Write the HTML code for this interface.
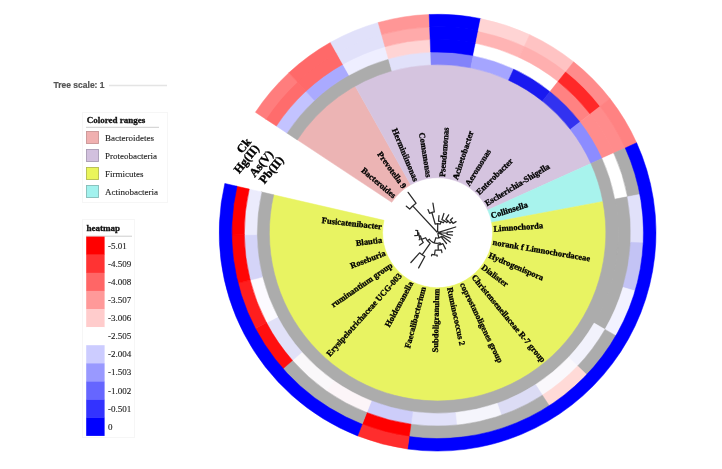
<!DOCTYPE html>
<html><head><meta charset="utf-8"><style>
html,body{margin:0;padding:0;background:#fff;}
svg{display:block;filter:blur(0.35px);}
.lb{font-family:"Liberation Serif",serif;font-weight:bold;font-size:8.5px;fill:#000;stroke:#000;stroke-width:0.3px;}
.lg{font-family:"Liberation Serif",serif;font-size:9px;fill:#222;stroke:#222;stroke-width:0.12px;}
.lt{font-family:"Liberation Serif",serif;font-weight:bold;font-size:9px;fill:#111;stroke:#111;stroke-width:0.3px;}
.rl{font-family:"Liberation Serif",serif;font-weight:bold;font-size:12px;fill:#000;stroke:#000;stroke-width:0.35px;}
</style></head><body>
<svg width="722" height="469" viewBox="0 0 722 469">
<rect width="722" height="469" fill="#fff"/>
<text x="53.5" y="87.8" style="font-family:'Liberation Sans',sans-serif;font-weight:bold;font-size:8.5px;fill:#555;stroke:#555;stroke-width:0.2px">Tree scale: 1</text>
<line x1="109" y1="85.5" x2="167" y2="85.5" stroke="#e4e4e4" stroke-width="1.4"/>
<rect x="82.5" y="112.5" width="85" height="90" fill="none" stroke="#f6f6f6" stroke-width="1"/>
<text x="86.7" y="123" class="lt">Colored ranges</text>
<line x1="86" y1="127.3" x2="159" y2="127.3" stroke="#b8b8b8" stroke-width="0.7"/>
<rect x="86.5" y="131.5" width="12" height="12" fill="#f0b0b0" stroke="#c89696" stroke-width="0.9"/>
<rect x="86.5" y="149.5" width="12" height="12" fill="#d2c0de" stroke="#a89cb4" stroke-width="0.9"/>
<rect x="86.5" y="167.5" width="12" height="12" fill="#eaf55a" stroke="#b4bc50" stroke-width="0.9"/>
<rect x="86.5" y="185.5" width="12" height="12" fill="#a2f2ee" stroke="#84bcb8" stroke-width="0.9"/>
<text x="105" y="141" class="lg">Bacteroidetes</text>
<text x="105" y="159" class="lg">Proteobacteria</text>
<text x="105" y="177" class="lg">Firmicutes</text>
<text x="105" y="195" class="lg">Actinobacteria</text>
<rect x="82.5" y="219.5" width="52" height="218" fill="none" stroke="#f6f6f6" stroke-width="1"/>
<text x="86.5" y="231.3" class="lt">heatmap</text>
<line x1="86" y1="236.2" x2="132" y2="236.2" stroke="#b8b8b8" stroke-width="0.7"/>
<rect x="86.2" y="236.60" width="18.4" height="18.30" fill="#ff0000"/>
<text x="108" y="248.75" class="lg">-5.01</text>
<rect x="86.2" y="254.70" width="18.4" height="18.30" fill="#ff3333"/>
<text x="108" y="266.85" class="lg">-4.509</text>
<rect x="86.2" y="272.80" width="18.4" height="18.30" fill="#ff6666"/>
<text x="108" y="284.95" class="lg">-4.008</text>
<rect x="86.2" y="290.90" width="18.4" height="18.30" fill="#ff9999"/>
<text x="108" y="303.05" class="lg">-3.507</text>
<rect x="86.2" y="309.00" width="18.4" height="18.30" fill="#ffcccc"/>
<text x="108" y="321.15" class="lg">-3.006</text>
<rect x="86.2" y="327.10" width="18.4" height="18.30" fill="#ffffff"/>
<text x="108" y="339.25" class="lg">-2.505</text>
<rect x="86.2" y="345.20" width="18.4" height="18.30" fill="#ccccff"/>
<text x="108" y="357.35" class="lg">-2.004</text>
<rect x="86.2" y="363.30" width="18.4" height="18.30" fill="#9999ff"/>
<text x="108" y="375.45" class="lg">-1.503</text>
<rect x="86.2" y="381.40" width="18.4" height="18.30" fill="#6666ff"/>
<text x="108" y="393.55" class="lg">-1.002</text>
<rect x="86.2" y="399.50" width="18.4" height="18.30" fill="#3333ff"/>
<text x="108" y="411.65" class="lg">-0.501</text>
<rect x="86.2" y="417.60" width="18.4" height="18.30" fill="#0000ff"/>
<text x="108" y="429.75" class="lg">0</text>
<path d="M296.92,139.59A168.70,168.70 0 0 1 354.94,85.64L410.65,184.75A55.00,55.00 0 0 0 391.74,202.34Z" fill="#ecb4b4" stroke="#ecb4b4" stroke-width="0.5"/>
<path d="M354.94,85.64A168.70,168.70 0 0 1 591.38,163.33L487.74,210.08A55.00,55.00 0 0 0 410.65,184.75Z" fill="#d5c4df" stroke="#d5c4df" stroke-width="0.5"/>
<path d="M591.38,163.33A168.70,168.70 0 0 1 603.37,201.38L491.64,222.49A55.00,55.00 0 0 0 487.74,210.08Z" fill="#a8f3ed" stroke="#a8f3ed" stroke-width="0.5"/>
<path d="M603.37,201.38A168.70,168.70 0 1 1 273.22,194.75L384.01,220.33A55.00,55.00 0 1 0 491.64,222.49Z" fill="#e8f362" stroke="#e8f362" stroke-width="0.5"/>
<path d="M286.41,132.74A181.25,181.25 0 0 1 388.46,58.24L392.00,70.80A168.20,168.20 0 0 0 297.29,139.94Z" fill="#acacac" stroke="#acacac" stroke-width="0.5"/>
<path d="M388.28,58.29A181.25,181.25 0 0 1 430.80,51.58L431.29,64.62A168.20,168.20 0 0 0 391.83,70.85Z" fill="#e1e1fa" stroke="#e1e1fa" stroke-width="0.5"/>
<path d="M430.61,51.58A181.25,181.25 0 0 1 473.52,55.04L470.93,67.84A168.20,168.20 0 0 0 431.11,64.63Z" fill="#8282fa" stroke="#8282fa" stroke-width="0.5"/>
<path d="M473.33,55.01A181.25,181.25 0 0 1 514.23,68.45L508.71,80.27A168.20,168.20 0 0 0 470.76,67.80Z" fill="#a5a5ff" stroke="#a5a5ff" stroke-width="0.5"/>
<path d="M514.06,68.36A181.25,181.25 0 0 1 550.65,91.03L542.51,101.23A168.20,168.20 0 0 0 508.55,80.20Z" fill="#1919f0" stroke="#1919f0" stroke-width="0.5"/>
<path d="M550.51,90.91A181.25,181.25 0 0 1 580.76,121.54L570.45,129.54A168.20,168.20 0 0 0 542.38,101.12Z" fill="#3232f0" stroke="#3232f0" stroke-width="0.5"/>
<path d="M580.64,121.39A181.25,181.25 0 0 1 602.86,158.26L590.96,163.62A168.20,168.20 0 0 0 570.34,129.40Z" fill="#8c8cff" stroke="#8c8cff" stroke-width="0.5"/>
<path d="M602.78,158.08A181.25,181.25 0 1 1 261.02,191.84L273.73,194.78A168.20,168.20 0 1 0 590.89,163.46Z" fill="#acacac" stroke="#acacac" stroke-width="0.5"/>
<path d="M275.94,125.82A193.80,193.80 0 0 1 305.70,90.71L314.58,100.27A180.75,180.75 0 0 0 286.82,133.02Z" fill="#c3c3ff" stroke="#c3c3ff" stroke-width="0.5"/>
<path d="M305.55,90.85A193.80,193.80 0 0 1 342.73,63.71L349.12,75.09A180.75,180.75 0 0 0 314.44,100.40Z" fill="#aaaaff" stroke="#aaaaff" stroke-width="0.5"/>
<path d="M342.55,63.81A193.80,193.80 0 0 1 385.06,46.16L388.60,58.72A180.75,180.75 0 0 0 348.95,75.18Z" fill="#eeeeff" stroke="#eeeeff" stroke-width="0.5"/>
<path d="M384.86,46.21A193.80,193.80 0 0 1 430.33,39.04L430.82,52.08A180.75,180.75 0 0 0 388.42,58.77Z" fill="#ffd4d4" stroke="#ffd4d4" stroke-width="0.5"/>
<path d="M430.13,39.04A193.80,193.80 0 0 1 476.01,42.74L473.42,55.53A180.75,180.75 0 0 0 430.63,52.08Z" fill="#0000ff" stroke="#0000ff" stroke-width="0.5"/>
<path d="M475.81,42.70A193.80,193.80 0 0 1 558.48,81.22L550.34,91.42A180.75,180.75 0 0 0 473.23,55.50Z" fill="#ffffff" stroke="#ffffff" stroke-width="0.5"/>
<path d="M558.32,81.09A193.80,193.80 0 0 1 590.67,113.84L580.36,121.84A180.75,180.75 0 0 0 550.19,91.30Z" fill="#ff8282" stroke="#ff8282" stroke-width="0.5"/>
<path d="M590.55,113.68A193.80,193.80 0 0 1 614.30,153.10L602.40,158.46A180.75,180.75 0 0 0 580.25,121.69Z" fill="#ff8c8c" stroke="#ff8c8c" stroke-width="0.5"/>
<path d="M614.22,152.92A193.80,193.80 0 0 1 628.05,196.82L615.22,199.23A180.75,180.75 0 0 0 602.32,158.29Z" fill="#ffffff" stroke="#ffffff" stroke-width="0.5"/>
<path d="M628.01,196.62A193.80,193.80 0 0 1 605.32,329.80L594.02,323.27A180.75,180.75 0 0 0 615.19,199.05Z" fill="#acacac" stroke="#acacac" stroke-width="0.5"/>
<path d="M605.42,329.63A193.80,193.80 0 0 1 577.83,366.47L568.39,357.46A180.75,180.75 0 0 0 594.12,323.10Z" fill="#f2f2fc" stroke="#f2f2fc" stroke-width="0.5"/>
<path d="M577.97,366.32A193.80,193.80 0 0 1 542.50,395.66L535.43,384.68A180.75,180.75 0 0 0 568.52,357.33Z" fill="#faf8fc" stroke="#faf8fc" stroke-width="0.5"/>
<path d="M542.67,395.55A193.80,193.80 0 0 1 501.30,415.73L497.01,403.41A180.75,180.75 0 0 0 535.59,384.58Z" fill="#dcdcf5" stroke="#dcdcf5" stroke-width="0.5"/>
<path d="M501.49,415.66A193.80,193.80 0 0 1 456.55,425.57L455.27,412.58A180.75,180.75 0 0 0 497.19,403.34Z" fill="#f5f5fc" stroke="#f5f5fc" stroke-width="0.5"/>
<path d="M456.75,425.55A193.80,193.80 0 0 1 410.73,424.63L412.54,411.70A180.75,180.75 0 0 0 455.46,412.57Z" fill="#e1e1fa" stroke="#e1e1fa" stroke-width="0.5"/>
<path d="M410.93,424.66A193.80,193.80 0 0 1 366.41,412.95L371.21,400.82A180.75,180.75 0 0 0 412.73,411.73Z" fill="#cdcdfa" stroke="#cdcdfa" stroke-width="0.5"/>
<path d="M366.60,413.03A193.80,193.80 0 0 1 326.08,391.20L333.59,380.53A180.75,180.75 0 0 0 371.38,400.88Z" fill="#fcf5f8" stroke="#fcf5f8" stroke-width="0.5"/>
<path d="M326.25,391.32A193.80,193.80 0 0 1 291.98,360.58L301.79,351.97A180.75,180.75 0 0 0 333.75,380.63Z" fill="#faf8fa" stroke="#faf8fa" stroke-width="0.5"/>
<path d="M292.12,360.74A193.80,193.80 0 0 1 266.03,322.82L277.58,316.75A180.75,180.75 0 0 0 301.91,352.11Z" fill="#e1e1f8" stroke="#e1e1f8" stroke-width="0.5"/>
<path d="M266.12,323.00A193.80,193.80 0 0 1 249.66,280.01L262.32,276.83A180.75,180.75 0 0 0 277.67,316.92Z" fill="#fcfaff" stroke="#fcfaff" stroke-width="0.5"/>
<path d="M249.71,280.21A193.80,193.80 0 0 1 243.81,234.56L256.86,234.44A180.75,180.75 0 0 0 262.37,277.01Z" fill="#d4d4f8" stroke="#d4d4f8" stroke-width="0.5"/>
<path d="M243.81,234.76A193.80,193.80 0 0 1 248.79,189.01L261.50,191.95A180.75,180.75 0 0 0 256.86,234.62Z" fill="#ebebfc" stroke="#ebebfc" stroke-width="0.5"/>
<path d="M265.47,118.90A206.35,206.35 0 0 1 297.16,81.52L306.04,91.08A193.30,193.30 0 0 0 276.35,126.09Z" fill="#ff6c6c" stroke="#ff6c6c" stroke-width="0.5"/>
<path d="M297.00,81.66A206.35,206.35 0 0 1 336.58,52.77L342.97,64.15A193.30,193.30 0 0 0 305.89,91.21Z" fill="#ff6969" stroke="#ff6969" stroke-width="0.5"/>
<path d="M336.40,52.87A206.35,206.35 0 0 1 381.66,34.08L385.20,46.64A193.30,193.30 0 0 0 342.80,64.24Z" fill="#e1e1fa" stroke="#e1e1fa" stroke-width="0.5"/>
<path d="M381.45,34.14A206.35,206.35 0 0 1 429.86,26.50L430.35,39.54A193.30,193.30 0 0 0 385.00,46.69Z" fill="#ffaaaa" stroke="#ffaaaa" stroke-width="0.5"/>
<path d="M429.64,26.50A206.35,206.35 0 0 1 478.49,30.44L475.91,43.23A193.30,193.30 0 0 0 430.15,39.54Z" fill="#0000ff" stroke="#0000ff" stroke-width="0.5"/>
<path d="M478.28,30.40A206.35,206.35 0 0 1 524.84,45.70L519.32,57.52A193.30,193.30 0 0 0 475.71,43.19Z" fill="#ffb4b4" stroke="#ffb4b4" stroke-width="0.5"/>
<path d="M524.64,45.61A206.35,206.35 0 0 1 566.31,71.41L558.17,81.61A193.30,193.30 0 0 0 519.14,57.44Z" fill="#ffafaf" stroke="#ffafaf" stroke-width="0.5"/>
<path d="M566.14,71.28A206.35,206.35 0 0 1 600.58,106.14L590.27,114.15A193.30,193.30 0 0 0 558.01,81.48Z" fill="#ff2828" stroke="#ff2828" stroke-width="0.5"/>
<path d="M600.45,105.97A206.35,206.35 0 0 1 625.74,147.95L613.84,153.31A193.30,193.30 0 0 0 590.15,113.99Z" fill="#ff8c8c" stroke="#ff8c8c" stroke-width="0.5"/>
<path d="M625.65,147.75A206.35,206.35 0 0 1 640.38,194.49L627.56,196.91A193.30,193.30 0 0 0 613.76,153.12Z" fill="#acacac" stroke="#acacac" stroke-width="0.5"/>
<path d="M640.34,194.28A206.35,206.35 0 0 1 643.68,243.18L630.65,242.51A193.30,193.30 0 0 0 627.52,196.71Z" fill="#e1e1fa" stroke="#e1e1fa" stroke-width="0.5"/>
<path d="M643.69,242.96A206.35,206.35 0 0 1 635.46,291.27L622.95,287.57A193.30,193.30 0 0 0 630.66,242.31Z" fill="#c3c3f5" stroke="#c3c3f5" stroke-width="0.5"/>
<path d="M635.52,291.06A206.35,206.35 0 0 1 616.18,336.09L604.88,329.55A193.30,193.30 0 0 0 623.01,287.37Z" fill="#f2f2ff" stroke="#f2f2ff" stroke-width="0.5"/>
<path d="M616.29,335.91A206.35,206.35 0 0 1 586.91,375.13L577.47,366.13A193.30,193.30 0 0 0 604.99,329.38Z" fill="#acacac" stroke="#acacac" stroke-width="0.5"/>
<path d="M587.06,374.98A206.35,206.35 0 0 1 549.29,406.21L542.23,395.24A193.30,193.30 0 0 0 577.61,365.98Z" fill="#ffdad7" stroke="#ffdad7" stroke-width="0.5"/>
<path d="M549.47,406.09A206.35,206.35 0 0 1 408.99,437.06L410.80,424.13A193.30,193.30 0 0 0 542.40,395.13Z" fill="#acacac" stroke="#acacac" stroke-width="0.5"/>
<path d="M409.20,437.09A206.35,206.35 0 0 1 361.80,424.63L366.60,412.49A193.30,193.30 0 0 0 411.00,424.16Z" fill="#ff0000" stroke="#ff0000" stroke-width="0.5"/>
<path d="M362.01,424.70A206.35,206.35 0 0 1 282.55,368.86L292.36,360.25A193.30,193.30 0 0 0 366.79,412.56Z" fill="#acacac" stroke="#acacac" stroke-width="0.5"/>
<path d="M282.70,369.03A206.35,206.35 0 0 1 254.92,328.65L266.47,322.58A193.30,193.30 0 0 0 292.49,360.41Z" fill="#ff0f0f" stroke="#ff0f0f" stroke-width="0.5"/>
<path d="M255.02,328.84A206.35,206.35 0 0 1 237.49,283.07L250.15,279.89A193.30,193.30 0 0 0 266.56,322.76Z" fill="#ff1e1e" stroke="#ff1e1e" stroke-width="0.5"/>
<path d="M237.55,283.28A206.35,206.35 0 0 1 231.26,234.68L244.31,234.56A193.30,193.30 0 0 0 250.20,280.09Z" fill="#ff0505" stroke="#ff0505" stroke-width="0.5"/>
<path d="M231.26,234.90A206.35,206.35 0 0 1 236.56,186.18L249.28,189.12A193.30,193.30 0 0 0 244.31,234.76Z" fill="#ff0000" stroke="#ff0000" stroke-width="0.5"/>
<path d="M255.42,112.25A218.40,218.40 0 0 1 288.96,72.69L297.50,81.88A205.85,205.85 0 0 0 265.89,119.17Z" fill="#ff7d7d" stroke="#ff7d7d" stroke-width="0.5"/>
<path d="M288.79,72.84A218.40,218.40 0 0 1 330.69,42.26L336.83,53.20A205.85,205.85 0 0 0 297.34,82.03Z" fill="#ff6969" stroke="#ff6969" stroke-width="0.5"/>
<path d="M330.49,42.37A218.40,218.40 0 0 1 378.39,22.48L381.79,34.56A205.85,205.85 0 0 0 336.64,53.31Z" fill="#e1e1fa" stroke="#e1e1fa" stroke-width="0.5"/>
<path d="M378.17,22.54A218.40,218.40 0 0 1 429.41,14.45L429.88,26.99A205.85,205.85 0 0 0 381.59,34.62Z" fill="#ff9696" stroke="#ff9696" stroke-width="0.5"/>
<path d="M429.18,14.46A218.40,218.40 0 0 1 480.88,18.63L478.39,30.93A205.85,205.85 0 0 0 429.66,27.00Z" fill="#0000ff" stroke="#0000ff" stroke-width="0.5"/>
<path d="M480.66,18.59A218.40,218.40 0 0 1 529.93,34.78L524.63,46.15A205.85,205.85 0 0 0 478.18,30.89Z" fill="#ffd4d4" stroke="#ffd4d4" stroke-width="0.5"/>
<path d="M529.73,34.68A218.40,218.40 0 0 1 573.83,61.99L566.00,71.80A205.85,205.85 0 0 0 524.43,46.06Z" fill="#ffc3c3" stroke="#ffc3c3" stroke-width="0.5"/>
<path d="M573.65,61.85A218.40,218.40 0 0 1 610.10,98.75L600.19,106.45A205.85,205.85 0 0 0 565.83,71.67Z" fill="#ff8c8c" stroke="#ff8c8c" stroke-width="0.5"/>
<path d="M609.96,98.57A218.40,218.40 0 0 1 636.73,143.00L625.29,148.15A205.85,205.85 0 0 0 600.06,106.28Z" fill="#ff8282" stroke="#ff8282" stroke-width="0.5"/>
<path d="M636.63,142.79A218.40,218.40 0 0 1 407.32,448.99L409.06,436.56A205.85,205.85 0 0 0 625.20,147.96Z" fill="#0000ff" stroke="#0000ff" stroke-width="0.5"/>
<path d="M407.54,449.02A218.40,218.40 0 0 1 357.38,435.83L361.99,424.16A205.85,205.85 0 0 0 409.27,436.59Z" fill="#ff2d2d" stroke="#ff2d2d" stroke-width="0.5"/>
<path d="M357.59,435.92A218.40,218.40 0 0 1 224.82,183.46L237.05,186.29A205.85,205.85 0 0 0 362.19,424.24Z" fill="#0000ff" stroke="#0000ff" stroke-width="0.5"/>
<text x="394.88" y="196.49" transform="rotate(40.29 394.88 196.49)" text-anchor="end" dy="0.33em" class="lb">Bacteroides</text>
<text x="404.58" y="187.47" transform="rotate(53.87 404.58 187.47)" text-anchor="end" dy="0.33em" class="lb">Prevotella 9</text>
<text x="416.12" y="180.98" transform="rotate(67.45 416.12 180.98)" text-anchor="end" dy="0.33em" class="lb">Herminiimonas</text>
<text x="428.87" y="177.38" transform="rotate(81.03 428.87 177.38)" text-anchor="end" dy="0.33em" class="lb">Comamonas</text>
<text x="442.10" y="176.88" transform="rotate(274.61 442.10 176.88)" text-anchor="start" dy="0.33em" class="lb">Pseudomonas</text>
<text x="455.08" y="179.50" transform="rotate(288.19 455.08 179.50)" text-anchor="start" dy="0.33em" class="lb">Acinetobacter</text>
<text x="467.08" y="185.09" transform="rotate(301.77 467.08 185.09)" text-anchor="start" dy="0.33em" class="lb">Aeromonas</text>
<text x="477.44" y="193.34" transform="rotate(315.35 477.44 193.34)" text-anchor="start" dy="0.33em" class="lb">Enterobacter</text>
<text x="485.57" y="203.80" transform="rotate(328.93 485.57 203.80)" text-anchor="start" dy="0.33em" class="lb">Escherichia-Shigella</text>
<text x="491.01" y="215.87" transform="rotate(342.51 491.01 215.87)" text-anchor="start" dy="0.33em" class="lb">Collinsella</text>
<text x="493.47" y="228.88" transform="rotate(356.09 493.47 228.88)" text-anchor="start" dy="0.33em" class="lb">Limnochorda</text>
<text x="492.80" y="242.11" transform="rotate(9.67 492.80 242.11)" text-anchor="start" dy="0.33em" class="lb">norank f Limnochordaceae</text>
<text x="489.05" y="254.81" transform="rotate(23.25 489.05 254.81)" text-anchor="start" dy="0.33em" class="lb">Hydrogenispora</text>
<text x="482.42" y="266.27" transform="rotate(36.83 482.42 266.27)" text-anchor="start" dy="0.33em" class="lb">Dialister</text>
<text x="473.29" y="275.85" transform="rotate(50.41 473.29 275.85)" text-anchor="start" dy="0.33em" class="lb">Christensenellaceae R-7 group</text>
<text x="462.16" y="283.03" transform="rotate(63.99 462.16 283.03)" text-anchor="start" dy="0.33em" class="lb">coprostanoligenes group</text>
<text x="449.65" y="287.39" transform="rotate(77.57 449.65 287.39)" text-anchor="start" dy="0.33em" class="lb">Ruminococcus 2</text>
<text x="436.48" y="288.69" transform="rotate(-88.85 436.48 288.69)" text-anchor="end" dy="0.33em" class="lb">Subdoligranulum</text>
<text x="423.36" y="286.86" transform="rotate(-75.27 423.36 286.86)" text-anchor="end" dy="0.33em" class="lb">Faecalibacterium</text>
<text x="411.04" y="282.00" transform="rotate(-61.69 411.04 282.00)" text-anchor="end" dy="0.33em" class="lb">Holdemanella</text>
<text x="400.21" y="274.39" transform="rotate(-48.11 400.21 274.39)" text-anchor="end" dy="0.33em" class="lb">Erysipelotrichaceae UCG-003</text>
<text x="391.47" y="264.44" transform="rotate(-34.53 391.47 264.44)" text-anchor="end" dy="0.33em" class="lb">ruminantium group</text>
<text x="385.30" y="252.72" transform="rotate(-20.95 385.30 252.72)" text-anchor="end" dy="0.33em" class="lb">Roseburia</text>
<text x="382.06" y="239.88" transform="rotate(-7.37 382.06 239.88)" text-anchor="end" dy="0.33em" class="lb">Blautia</text>
<text x="381.93" y="226.64" transform="rotate(6.21 381.93 226.64)" text-anchor="end" dy="0.33em" class="lb">Fusicatenibacter</text>
<path d="M436.92,231.97A1.0,1.0 0 1 1 437.84,233.67M436.92,231.97L412.68,205.90M409.68,209.03A36.6,36.6 0 0 1 416.02,203.14M409.68,209.03L406.33,206.19M416.02,203.14L408.12,192.32M437.61,231.70L437.72,223.70M435.16,224.04A9,9 0 0 1 440.28,224.11M435.16,224.04L431.90,212.49M429.55,213.31A21,21 0 0 1 434.33,211.96M429.55,213.31L428.01,209.61M434.33,211.96L432.92,203.07M440.28,224.11L441.03,221.72M438.52,221.24A11.5,11.5 0 0 1 443.36,222.75M438.52,221.24L438.98,215.56M443.36,222.75L444.47,220.84M441.88,219.68A13.7,13.7 0 0 1 446.76,222.51M441.88,219.68L443.91,213.51M446.76,222.51L448.10,221.02M445.87,219.35A15.7,15.7 0 0 1 450.00,223.06M445.87,219.35L448.66,214.85M450.00,223.06L451.81,221.65M450.41,220.05A18,18 0 0 1 453.02,223.41M450.41,220.05L452.54,217.94M453.02,223.41L456.02,221.60M438.55,232.40L455.72,226.99M438.60,232.75L447.19,233.18M447.18,232.05A9.6,9.6 0 0 1 447.06,234.31M447.18,232.05L452.57,231.68M447.06,234.31L452.39,235.22M438.52,233.09L450.46,238.23M437.84,233.67L438.87,237.84M441.44,236.36A5.3,5.3 0 0 1 435.91,237.72M441.44,236.36L442.31,237.18M442.80,236.60A6.5,6.5 0 0 1 441.74,237.71M442.80,236.60L450.17,242.11M441.74,237.71L446.52,243.49M435.91,237.72L434.26,242.65M440.16,242.88A10.5,10.5 0 0 1 429.41,239.28M440.16,242.88L440.58,244.53M442.95,243.66A12.2,12.2 0 0 1 438.08,244.89M442.95,243.66L445.49,248.88M438.08,244.89L438.29,250.19M441.37,249.79A17.5,17.5 0 0 1 435.18,250.03M441.37,249.79L441.97,252.52M435.18,250.03L434.49,254.98M437.15,255.20A22.5,22.5 0 0 1 431.88,254.46M437.15,255.20L437.13,256.20M431.88,254.46L431.50,255.91M429.41,239.28L427.46,240.84M430.12,243.34A13,13 0 0 1 425.60,237.71M430.12,243.34L422.07,254.79M424.80,256.47A27,27 0 0 1 419.57,252.80M424.80,256.47L418.63,267.92M419.57,252.80L410.89,262.48M425.60,237.71L421.54,239.40M423.27,242.56A17.4,17.4 0 0 1 420.51,235.95M423.27,242.56L419.48,245.17M420.51,235.95L419.13,236.21M420.04,239.42A18.8,18.8 0 0 1 418.80,232.89M420.04,239.42L419.11,239.78M418.80,232.89L417.60,232.90M417.77,235.27A20,20 0 0 1 417.72,230.54M417.77,235.27L414.79,235.65M417.72,230.54L415.73,230.32" fill="none" stroke="#2a2a2a" stroke-width="1.25" stroke-linecap="round" stroke-linejoin="round"/>
<text x="243.7" y="145.4" transform="rotate(-51 243.7 145.4)" text-anchor="middle" dy="0.35em" class="rl">Ck</text>
<text x="246.2" y="158.8" transform="rotate(-51 246.2 158.8)" text-anchor="middle" dy="0.35em" class="rl">Hg(II)</text>
<text x="261" y="163.5" transform="rotate(-51 261 163.5)" text-anchor="middle" dy="0.35em" class="rl">As(V)</text>
<text x="271.2" y="169.7" transform="rotate(-51 271.2 169.7)" text-anchor="middle" dy="0.35em" class="rl">Pb(II)</text>
</svg>
</body></html>
